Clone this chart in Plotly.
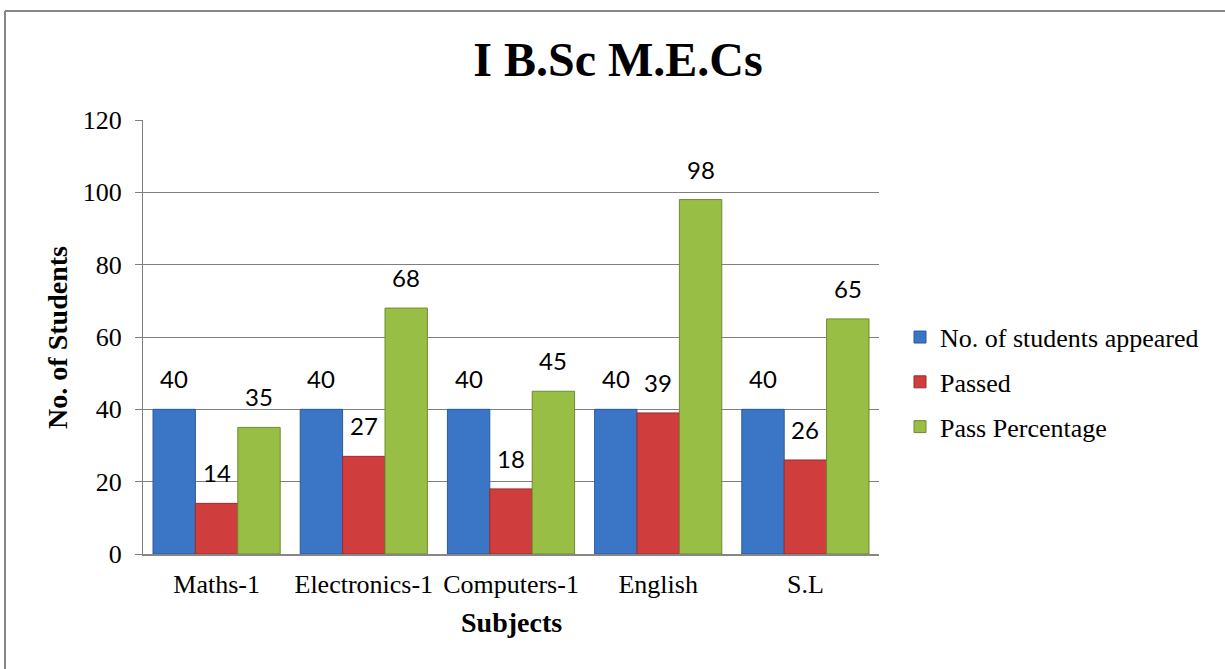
import plotly.graph_objects as go

subjects = ["Maths-1", "Electronics-1", "Computers-1", "English", "S.L"]
appeared = [40, 40, 40, 40, 40]
passed = [14, 27, 18, 39, 26]
pass_pct = [35, 68, 45, 98, 65]
series_names = ["No. of students appeared", "Passed", "Pass Percentage"]
y_ticks = [0, 20, 40, 60, 80, 100, 120]

colors = ["#3B76C6", "#CF3D3D", "#99BE45"]
edges = ["#2C5A98", "#9E2C2C", "#6E8C2E"]

W, H = 1225, 669
L, R, T, B = 143, 346, 120, 115
plot_w = W - L - R
plot_h = H - T - B
bargap = 0.136
bar_w_px = plot_w / len(subjects) * (1 - bargap) / 3

serif = "Liberation Serif, Times New Roman, serif"

fig = go.Figure()
all_series = [appeared, passed, pass_pct]
for i, (name, vals) in enumerate(zip(series_names, all_series)):
    fig.add_trace(go.Bar(
        x=subjects, y=vals, name=name,
        marker=dict(color=colors[i], line=dict(color=edges[i], width=1)),
        legendgroup=name,
    ))
    for s, v in zip(subjects, vals):
        fig.add_annotation(
            x=s, y=v, xref="x", yref="y", text=str(v), showarrow=False,
            yanchor="bottom", xanchor="center",
            xshift=(i - 1) * bar_w_px, yshift=14,
            font=dict(family="Lato, Carlito, Calibri, sans-serif", size=24, color="#000000"),
        )

# axis titles
fig.add_annotation(x=0.5, y=-0.157, xref="paper", yref="paper", text="<b>Subjects</b>",
                   showarrow=False, xanchor="center", yanchor="middle",
                   font=dict(family=serif, size=28, color="#000000"))
fig.add_annotation(x=-0.117, y=0.5, xref="paper", yref="paper", text="<b>No. of Students</b>",
                   showarrow=False, xanchor="center", yanchor="middle", textangle=-90,
                   font=dict(family=serif, size=28, color="#000000"))

# outer chart border (left and top visible)
bx = -(L - 5) / plot_w
by = 1 + (T - 11) / plot_h
fig.add_shape(type="line", xref="paper", yref="paper",
              x0=bx, x1=bx, y0=by, y1=-2,
              line=dict(color="#868686", width=2))
fig.add_shape(type="line", xref="paper", yref="paper",
              x0=bx, x1=3, y0=by, y1=by,
              line=dict(color="#868686", width=2))

fig.update_layout(
    width=W, height=H,
    margin=dict(l=L, r=R, t=T, b=B, autoexpand=False),
    paper_bgcolor="white", plot_bgcolor="white",
    barmode="group", bargap=bargap, bargroupgap=0,
    title=dict(text="<b>I B.Sc M.E.Cs</b>", xref="paper", x=(618 - L) / plot_w,
               xanchor="center", yref="container", y=1 - 59 / H, yanchor="middle",
               font=dict(family=serif, size=48, color="#000000")),
    font=dict(family=serif, size=26, color="#000000"),
    legend=dict(x=(900 - L) / plot_w, y=0.396, xanchor="left", yanchor="middle",
                xref="paper", yref="paper",
                font=dict(family=serif, size=26, color="#000000"),
                itemwidth=30, tracegroupgap=8, traceorder="grouped",
                bgcolor="rgba(0,0,0,0)"),
    xaxis=dict(showline=True, linecolor="#868686", linewidth=2, ticks="",
               tickfont=dict(family=serif, size=26, color="#000000"),
               showgrid=False, ticklabelstandoff=6),
    yaxis=dict(range=[0, 120], tickvals=y_ticks, showgrid=True, gridcolor="#7F7F7F",
               gridwidth=1.3, showline=True, linecolor="#7F7F7F", linewidth=1.3,
               ticks="outside", ticklen=7, tickcolor="#7F7F7F",
               tickfont=dict(family=serif, size=26, color="#000000"),
               zeroline=False, ticklabelstandoff=8),
)

fig.write_html("out.html", config={"displayModeBar": False},
               post_script="document.body.style.margin='0';")
